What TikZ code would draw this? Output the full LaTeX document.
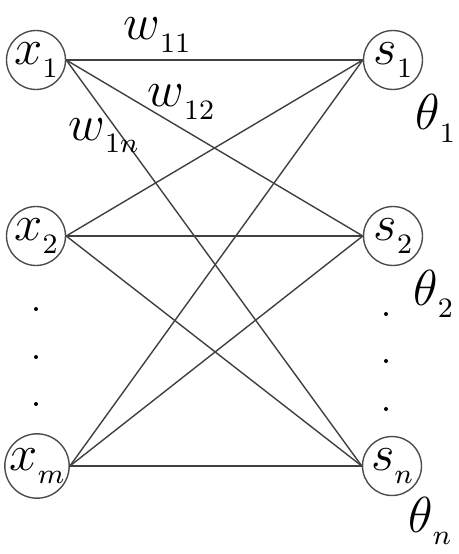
\documentclass[tikz,border=0pt]{standalone}
\usepackage{graphicx}
\newcommand{\sublab}[2]{\scalebox{2}{$#1$\raisebox{-3.6pt}{\fontsize{8}{10}\selectfont$#2$}}}
\begin{document}
\begin{tikzpicture}
    [x=0.02cm,y=-0.02cm,
    font=\fontsize{14.4}{17}\selectfont,
    neuron/.style={shape=circle,draw=black!70,minimum size=1.18cm,inner sep=0pt,line width=0.8pt},
    lab/.style={anchor=base west,inner sep=0pt},
    dot/.style={shape=circle,fill=black,minimum size=0.08cm,inner sep=0pt},
    edge/.style={draw=black!75,line width=0.8pt}]

    \useasboundingbox (0,0) rectangle (459,554);

    \node (x1) [neuron] at (36,60) {\sublab{x}{1}};
    \node (x2) [neuron] at (36,236) {\sublab{x}{2}};
    \node (xm) [neuron] at (37,466) {\sublab{x}{m}};
    \node (s1) [neuron] at (393,60) {\sublab{s}{1}};
    \node (s2) [neuron] at (393,236) {\sublab{s}{2}};
    \node (sn) [neuron] at (392,466) {\sublab{s}{n}};

    \node (dl1) [dot] at (36,309) {};
    \node (dl2) [dot] at (36,357) {};
    \node (dl3) [dot] at (36,404) {};
    \node (dr1) [dot] at (386,314) {};
    \node (dr2) [dot] at (386,361) {};
    \node (dr3) [dot] at (386,409) {};

    \draw [edge] (x1.east) -- (s1.west);
    \draw [edge] (x1.east) -- (s2.west);
    \draw [edge] (x1.east) -- (sn.west);
    \draw [edge] (x2.east) -- (s1.west);
    \draw [edge] (x2.east) -- (s2.west);
    \draw [edge] (x2.east) -- (sn.west);
    \draw [edge] (xm.east) -- (s1.west);
    \draw [edge] (xm.east) -- (s2.west);
    \draw [edge] (xm.east) -- (sn.west);

    \node (w11) [lab] at (123,40) {\sublab{w}{11}};
    \node (w12) [lab] at (147,107) {\sublab{w}{12}};
    \node (w1n) [lab] at (68,140) {\sublab{w}{1n}};
    \node (t1) [lab] at (415,130) {\sublab{\theta}{1}};
    \node (t2) [lab] at (413,305) {\sublab{\theta}{2}};
    \node (tn) [lab] at (408,532) {\sublab{\theta}{n}};

  \end{tikzpicture}
\end{document}
